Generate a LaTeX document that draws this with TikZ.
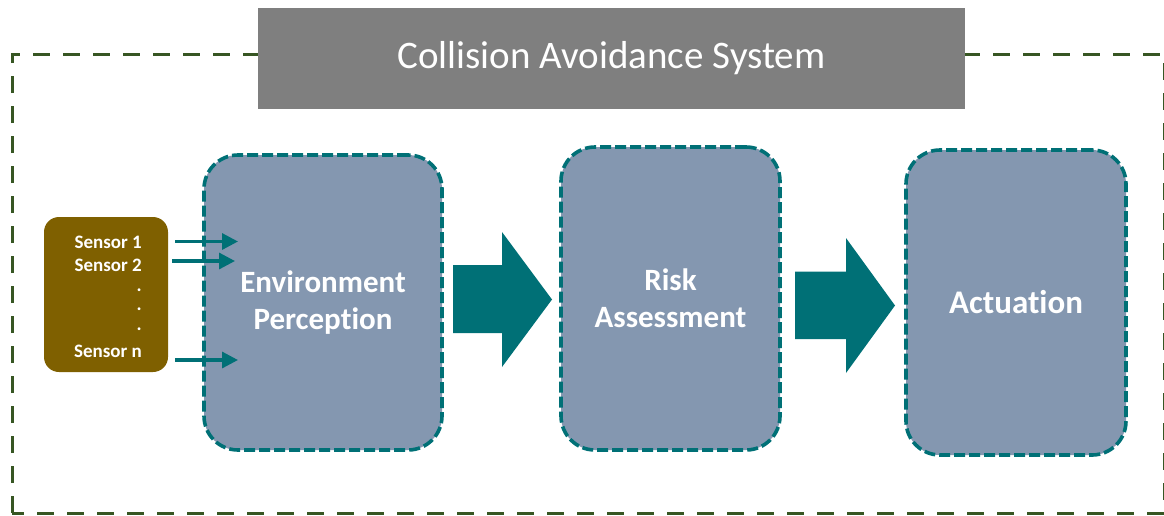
\documentclass[tikz,border=0pt]{standalone}
\usepackage{fontspec}
\setmainfont{Carlito}[Ligatures=NoCommon]
\usetikzlibrary{arrows.meta}
\definecolor{framegreen}{HTML}{375623}
\definecolor{titlegray}{HTML}{7F7F7F}
\definecolor{stageblue}{HTML}{8497B0}
\definecolor{tealline}{HTML}{007076}
\definecolor{sensorbrown}{HTML}{7F6000}
\tikzset{
  stagebox/.style={draw=tealline, fill=stageblue, line width=3.6pt,
    dash pattern=on 11pt off 4pt, rounded corners=34pt, align=center,
    text=white, font=\fontsize{31}{37}\selectfont\bfseries},
  sensortext/.style={text=white, font=\fontsize{19}{21}\selectfont\bfseries,
    anchor=east, inner sep=0pt},
  feed/.style={draw=tealline, line width=3.2pt,
    -{Triangle[length=16pt,width=16pt]}},
  blockarrow/.style={fill=tealline, draw=none}
}
\begin{document}
\begin{tikzpicture}[x=1pt,y=-1pt]
\useasboundingbox (0,0) rectangle (1164,515);
% outer system frame
\draw[framegreen, line width=3pt, dash pattern=on 17pt off 13pt]
  (12,513) -- (12,54) -- (1164,54) -- (1164,513) -- cycle;
% title banner
\node[fill=titlegray, minimum width=707pt, minimum height=101pt, inner sep=0pt,
  text=white, font=\fontsize{39}{45}\selectfont] (title) at (611.5,58.5)
  {Collision Avoidance System};
% processing stages
\node[stagebox, minimum width=238pt, minimum height=295pt] (env) at (323,302.5)
  {Environment\\Perception};
\node[stagebox, minimum width=219pt, minimum height=303pt] (risk) at (670.5,298.5)
  {Risk\\Assessment};
\node[stagebox, minimum width=220pt, minimum height=305pt,
  font=\fontsize{33}{39}\selectfont\bfseries] (act) at (1016,302.5)
  {Actuation};
% sensor group
\node[fill=sensorbrown, rounded corners=15pt, minimum width=124pt,
  minimum height=155pt, inner sep=0pt] (sensors) at (106,294.5) {};
\node[sensortext] (s1) at (142,242) {Sensor 1};
\node[sensortext] (s2) at (142,265) {Sensor 2};
\node[sensortext] (d1) at (142,290) {.};
\node[sensortext] (d2) at (142,309) {.};
\node[sensortext] (d3) at (142,329) {.};
\node[sensortext] (sn) at (142,351) {Sensor n};
% sensor feeds into perception
\coordinate (f1a) at (175,241.5);
\coordinate (f1b) at (238,241.5);
\coordinate (f2a) at (172,261);
\coordinate (f2b) at (235,261);
\coordinate (fna) at (175,360);
\coordinate (fnb) at (238,360);
\draw[feed] (f1a) -- (f1b);
\draw[feed] (f2a) -- (f2b);
\draw[feed] (fna) -- (fnb);
% block arrows between stages
\fill[blockarrow] (453,265) -- (502,265) -- (502,232) -- (552,299.5)
  -- (502,367) -- (502,333) -- (453,333) -- cycle;
\fill[blockarrow] (795,271.5) -- (846,271.5) -- (846,238) -- (895,305.5)
  -- (846,373) -- (846,339) -- (795,339) -- cycle;
\end{tikzpicture}
\end{document}
